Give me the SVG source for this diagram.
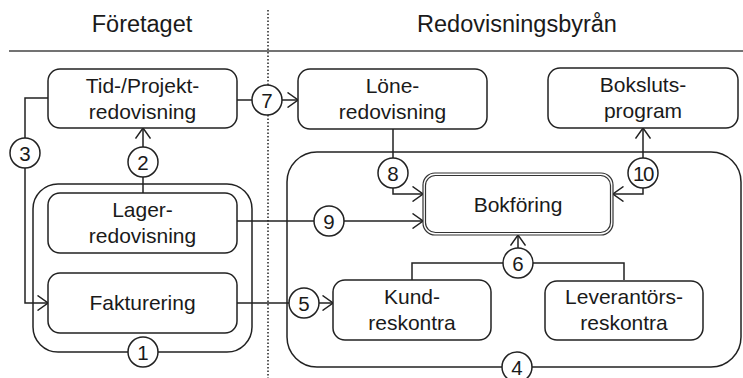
<svg xmlns="http://www.w3.org/2000/svg" width="743" height="378" viewBox="0 0 743 378">
<style>
text{font-family:"Liberation Sans",Arial,sans-serif;fill:#1a1a1a;text-anchor:middle}
.hd{font-size:23.5px}
.bx{font-size:21px}
.num{font-size:20.5px}
.box{fill:#fff;stroke:#222;stroke-width:1.5}
.grp{fill:none;stroke:#222;stroke-width:1.5}
.ln{fill:none;stroke:#222;stroke-width:1.5}
.arr{marker-end:url(#ah)}
.c{fill:#fff;stroke:#222;stroke-width:1.5}
</style>
<defs>
<marker id="ah" viewBox="0 0 12 16" refX="11.5" refY="8" markerWidth="12" markerHeight="16" markerUnits="userSpaceOnUse" orient="auto">
<path d="M1,0.5 L11.5,8 L1,15.5" fill="none" stroke="#222" stroke-width="1.5"/>
</marker>
</defs>
<rect width="743" height="378" fill="#fff"/>
<g id="headers">
<text class="hd" x="142" y="32">Företaget</text>
<text class="hd" x="517" y="32">Redovisningsbyrån</text>
<line x1="9" y1="51" x2="743" y2="51" stroke="#444" stroke-width="1.5"/>
<line x1="268" y1="10" x2="268" y2="378" stroke="#222" stroke-width="1.5" stroke-dasharray="1.5,2"/>
</g>
<g id="group1"><rect class="grp" x="33" y="184" width="219" height="168" rx="25"/></g>
<g id="group4"><rect class="grp" x="287" y="152" width="454" height="215" rx="30"/></g>
<g id="connectors">
<path class="ln arr" d="M48,98 H25 V303 H48"/>
<path class="ln arr" d="M143,193 V128"/>
<path class="ln arr" d="M237,100 H298"/>
<path class="ln arr" d="M393,129 V194 H423"/>
<path class="ln arr" d="M237,221 H423"/>
<path class="ln arr" d="M643,160 V128"/>
<path class="ln arr" d="M643,186 V194 H613"/>
<path class="ln" d="M412,280 V263 H624 V280"/>
<path class="ln arr" d="M518,263 V235"/>
<path class="ln arr" d="M237,303 H333"/>
</g>
<g id="tid"><rect class="box" x="48" y="69" width="189" height="59" rx="12"/><text class="bx" x="142.5" y="93">Tid-/Projekt-</text><text class="bx" x="142.5" y="119">redovisning</text></g>
<g id="lager"><rect class="box" x="48" y="193" width="189" height="60" rx="12"/><text class="bx" x="142.5" y="217">Lager-</text><text class="bx" x="142.5" y="243">redovisning</text></g>
<g id="fakturering"><rect class="box" x="48" y="273" width="189" height="60" rx="12"/><text class="bx" x="142.5" y="310">Fakturering</text></g>
<g id="lone"><rect class="box" x="298" y="69" width="189" height="60" rx="12"/><text class="bx" x="392.5" y="93">Löne-</text><text class="bx" x="392.5" y="119">redovisning</text></g>
<g id="bokslut"><rect class="box" x="548" y="68" width="190" height="60" rx="12"/><text class="bx" x="643" y="92">Boksluts-</text><text class="bx" x="643" y="118">program</text></g>
<g id="bokforing"><rect x="423" y="173" width="190" height="62" rx="12" fill="#fff" stroke="#333" stroke-width="1.2"/><rect x="425.5" y="175.5" width="185" height="57" rx="10" fill="none" stroke="#333" stroke-width="1.2"/><text class="bx" x="518" y="212">Bokföring</text></g>
<g id="kund"><rect class="box" x="333" y="280" width="158" height="60" rx="12"/><text class="bx" x="412" y="304">Kund-</text><text class="bx" x="412" y="330">reskontra</text></g>
<g id="leverantor"><rect class="box" x="545" y="281" width="158" height="59" rx="12"/><text class="bx" x="624" y="304">Leverantörs-</text><text class="bx" x="624" y="330">reskontra</text></g>
<g id="labels">
<circle class="c" cx="143" cy="352" r="15"/><text class="num" x="143" y="359.5">1</text>
<circle class="c" cx="143" cy="162" r="15"/><text class="num" x="143" y="169.5">2</text>
<circle class="c" cx="25" cy="153" r="15"/><text class="num" x="25" y="160.5">3</text>
<circle class="c" cx="517" cy="367" r="15"/><text class="num" x="517" y="374.5">4</text>
<circle class="c" cx="304" cy="303" r="15"/><text class="num" x="304" y="310.5">5</text>
<circle class="c" cx="518" cy="263" r="15"/><text class="num" x="518" y="270.5">6</text>
<circle class="c" cx="267" cy="100" r="15"/><text class="num" x="267" y="107.5">7</text>
<circle class="c" cx="393" cy="173" r="15"/><text class="num" x="393" y="180.5">8</text>
<circle class="c" cx="329" cy="221" r="15"/><text class="num" x="329" y="228.5">9</text>
<circle class="c" cx="643" cy="173" r="15"/><text class="num" x="643" y="180.5" letter-spacing="-1.5">10</text>
</g>
</svg>
